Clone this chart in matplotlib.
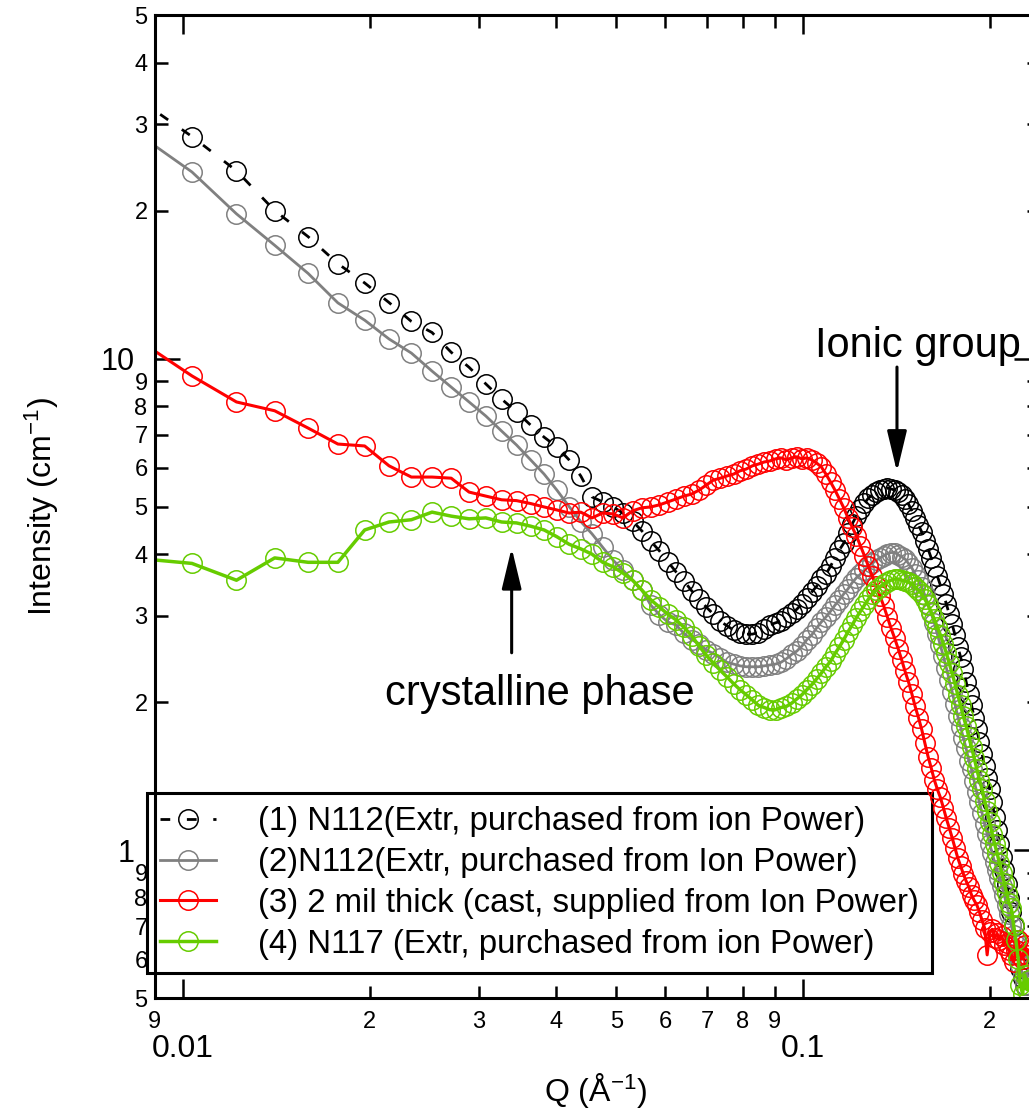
import numpy as np
import matplotlib
matplotlib.use('Agg')
import matplotlib.pyplot as plt
from matplotlib.ticker import LogLocator, FuncFormatter

plt.rcParams['font.family'] = ['Liberation Sans', 'DejaVu Sans']
plt.rcParams['mathtext.fontset'] = 'custom'
plt.rcParams['mathtext.rm'] = 'Liberation Sans'
plt.rcParams['mathtext.it'] = 'Liberation Sans:italic'
plt.rcParams['mathtext.bf'] = 'Liberation Sans:bold'

# Q grid (1/A), shared by the four samples (first point lies just left of the axis)
q = [0.00848,
     0.01034, 0.01220, 0.01406, 0.01592, 0.01778, 0.01964, 0.02150, 0.02336, 0.02522, 0.02708,
     0.02894, 0.03080, 0.03266, 0.03452, 0.03638, 0.03824, 0.04010, 0.04196, 0.04382, 0.04568,
     0.04754, 0.04940, 0.05126, 0.05312, 0.05498, 0.05684, 0.05870, 0.06056, 0.06242, 0.06428,
     0.06614, 0.06800, 0.06986, 0.07172, 0.07358, 0.07544, 0.07730, 0.07916, 0.08102, 0.08288,
     0.08474, 0.08660, 0.08846, 0.09032, 0.09218, 0.09404, 0.09590, 0.09776, 0.09962, 0.10148,
     0.10334, 0.10520, 0.10706, 0.10892, 0.11078, 0.11264, 0.11450, 0.11636, 0.11822, 0.12008,
     0.12194, 0.12380, 0.12566, 0.12752, 0.12938, 0.13124, 0.13310, 0.13496, 0.13682, 0.13868,
     0.14054, 0.14240, 0.14426, 0.14612, 0.14798, 0.14984, 0.15170, 0.15356, 0.15542, 0.15728,
     0.15914, 0.16100, 0.16286, 0.16472, 0.16658, 0.16844, 0.17030, 0.17216, 0.17402, 0.17588,
     0.17774, 0.17960, 0.18146, 0.18332, 0.18518, 0.18704, 0.18890, 0.19076, 0.19262, 0.19448,
     0.19634, 0.19820, 0.20006, 0.20192, 0.20378, 0.20564, 0.20750, 0.20936, 0.21122, 0.21308,
     0.21494, 0.21680, 0.21866, 0.22052, 0.22238, 0.22424, 0.22610, 0.22796, 0.22982, 0.23168]

# (1) N112 extruded, ion Power
i_n112_a = [33.7,
            28.3, 24.1, 20.0, 17.7, 15.6, 14.25, 13.0, 11.9, 11.3, 10.3,
            9.6, 8.88, 8.27, 7.79, 7.32, 6.92, 6.61, 6.22, 5.77, 5.23,
            5.11, 4.99, 4.85, 4.67, 4.46, 4.25, 4.06, 3.86, 3.68, 3.53,
            3.37, 3.24, 3.12, 3.02, 2.92, 2.86, 2.80, 2.76, 2.75, 2.75,
            2.77, 2.82, 2.87, 2.90, 2.92, 2.98, 3.03, 3.09, 3.17, 3.26,
            3.35, 3.44, 3.56, 3.64, 3.78, 3.93, 4.08, 4.21, 4.42, 4.61,
            4.78, 4.94, 5.08, 5.20, 5.28, 5.35, 5.40, 5.43, 5.45, 5.43,
            5.40, 5.35, 5.28, 5.18, 5.06, 4.90, 4.74, 4.59, 4.44, 4.25,
            4.10, 3.93, 3.77, 3.61, 3.46, 3.32, 3.17, 3.02, 2.88, 2.74,
            2.59, 2.47, 2.34, 2.20, 2.08, 1.97, 1.86, 1.76, 1.66, 1.57,
            1.48, 1.40, 1.33, 1.25, 1.17, 1.10, 1.03, 0.968, 0.911, 0.853,
            0.799, 0.748, 0.700, 0.656, 0.612, 0.575, 0.549, 0.531, 0.557, 0.545]

# (2) N112 extruded, Ion Power
i_n112_b = [28.6,
            23.97, 19.7, 17.0, 14.9, 12.98, 11.97, 10.96, 10.26, 9.43, 8.75,
            8.16, 7.64, 7.12, 6.67, 6.22, 5.82, 5.40, 5.00, 4.66, 4.40,
            4.13, 3.89, 3.71, 3.54, 3.38, 3.15, 3.01, 2.91, 2.87, 2.76,
            2.68, 2.63, 2.55, 2.51, 2.46, 2.41, 2.39, 2.37, 2.36, 2.36,
            2.36, 2.37, 2.38, 2.39, 2.41, 2.45, 2.50, 2.54, 2.60, 2.68,
            2.74, 2.83, 2.91, 2.98, 3.06, 3.15, 3.23, 3.32, 3.40, 3.50,
            3.58, 3.64, 3.71, 3.78, 3.83, 3.89, 3.93, 3.97, 4.01, 4.03,
            4.03, 3.99, 3.95, 3.91, 3.83, 3.75, 3.64, 3.54, 3.43, 3.30,
            3.17, 3.03, 2.90, 2.75, 2.61, 2.48, 2.35, 2.22, 2.10, 1.98,
            1.87, 1.78, 1.69, 1.61, 1.52, 1.46, 1.38, 1.31, 1.25, 1.19,
            1.13, 1.08, 1.03, 0.986, 0.946, 0.911, 0.877, 0.845, 0.810, 0.773,
            0.740, 0.704, 0.672, 0.640, 0.612, 0.583, 0.557, 0.531, 0.557, 0.583]

# (3) 2 mil cast film
i_cast = [10.9,
          9.22, 8.16, 7.83, 7.22, 6.70, 6.64, 6.05, 5.74, 5.74, 5.71,
          5.35, 5.25, 5.16, 5.14, 5.07, 4.99, 4.92, 4.85, 4.87, 4.74,
          4.85, 4.83, 4.74, 4.90, 4.97, 4.99, 5.04, 5.11, 5.18, 5.25,
          5.30, 5.40, 5.53, 5.66, 5.71, 5.77, 5.82, 5.91, 5.96, 6.05,
          6.10, 6.16, 6.19, 6.25, 6.28, 6.22, 6.28, 6.31, 6.25, 6.28,
          6.22, 6.13, 6.02, 5.82, 5.61, 5.40, 5.18, 4.97, 4.74, 4.54,
          4.36, 4.16, 3.97, 3.78, 3.61, 3.44, 3.29, 3.14, 2.98, 2.83,
          2.70, 2.57, 2.44, 2.31, 2.20, 2.08, 1.96, 1.86, 1.76, 1.65,
          1.55, 1.47, 1.39, 1.33, 1.28, 1.22, 1.16, 1.11, 1.06, 1.01,
          0.963, 0.928, 0.894, 0.865, 0.841, 0.810, 0.790, 0.773, 0.748, 0.720,
          0.694, 0.612, 0.680, 0.690, 0.662, 0.677, 0.656, 0.668, 0.640, 0.648,
          0.625, 0.612, 0.592, 0.625, 0.656, 0.612, 0.600, 0.640, 0.612, 0.625]

# (4) N117 extruded
i_n117 = [3.92,
          3.83, 3.54, 3.93, 3.85, 3.85, 4.48, 4.65, 4.70, 4.87, 4.78,
          4.72, 4.74, 4.65, 4.63, 4.56, 4.48, 4.34, 4.19, 4.10, 4.00,
          3.85, 3.77, 3.66, 3.54, 3.38, 3.23, 3.12, 3.02, 2.94, 2.84,
          2.73, 2.60, 2.49, 2.40, 2.32, 2.25, 2.18, 2.12, 2.07, 2.02,
          1.97, 1.95, 1.93, 1.93, 1.95, 1.96, 1.99, 2.03, 2.07, 2.12,
          2.17, 2.23, 2.29, 2.36, 2.42, 2.51, 2.59, 2.68, 2.78, 2.87,
          2.97, 3.06, 3.15, 3.24, 3.32, 3.38, 3.43, 3.48, 3.51, 3.54,
          3.56, 3.56, 3.54, 3.53, 3.51, 3.48, 3.43, 3.38, 3.32, 3.24,
          3.15, 3.05, 2.95, 2.84, 2.74, 2.63, 2.52, 2.40, 2.29, 2.18,
          2.07, 1.97, 1.87, 1.79, 1.70, 1.62, 1.54, 1.46, 1.39, 1.33,
          1.26, 1.20, 1.14, 1.08, 1.03, 0.986, 0.940, 0.898, 0.857, 0.818,
          0.780, 0.762, 0.704, 0.656, 0.600, 0.531, 0.510, 0.557, 0.520, 0.545]

labels = ['(1) N112(Extr, purchased from ion Power)',
          '(2)N112(Extr, purchased from Ion Power)',
          '(3) 2 mil thick (cast, supplied from Ion Power)',
          '(4) N117 (Extr, purchased from ion Power)']

fig = plt.figure(figsize=(10.29, 11.12), dpi=100)
ax = fig.add_axes([0.1502, 0.1025, 0.8592, 0.8840])

ms = 14
ax.plot(q, i_n112_a, color='black', lw=2.0, ls=(0, (3.5, 6)), marker='o', ms=ms,
        mfc='none', mew=1.1, label=labels[0])
ax.plot(q, i_n112_b, color='#808080', lw=2.0, marker='o', ms=ms,
        mfc='none', mew=1.1, label=labels[1])
ax.plot(q, i_cast, color='#ff0000', lw=2.2, marker='o', ms=ms,
        mfc='none', mew=1.1, label=labels[2])
ax.plot(q, i_n117, color='#66cc00', lw=2.5, marker='o', ms=ms,
        mfc='none', mew=1.1, label=labels[3])

ax.set_xscale('log')
ax.set_yscale('log')
ax.set_xlim(0.009, 0.24)
ax.set_ylim(0.5, 50)


def lead_digit(v, pos):
    e = np.floor(np.log10(v) + 1e-9)
    return f"{int(round(v / 10 ** e))}"


for axis in (ax.xaxis, ax.yaxis):
    axis.set_major_locator(LogLocator(base=10, numticks=10))
    axis.set_minor_locator(LogLocator(base=10, subs=np.arange(2, 10), numticks=20))
    axis.set_major_formatter(FuncFormatter(lambda v, pos: f"{v:g}"))
    axis.set_minor_formatter(FuncFormatter(lead_digit))

ax.tick_params(which='both', direction='in', top=True, right=True, width=1.8, colors='black')
ax.tick_params(axis='y', which='major', length=18, labelsize=22, pad=14)
ax.tick_params(axis='y', which='minor', length=9, labelsize=17, pad=5)
ax.tick_params(axis='x', which='major', length=14, labelsize=23, pad=26)
ax.tick_params(axis='x', which='minor', length=9, labelsize=17, pad=9)
for s in ax.spines.values():
    s.set_linewidth(2.2)

fig.text(42 / 1029, 1 - 507 / 1112, 'Intensity (cm$^{-1}$)', rotation=90,
         ha='center', va='center', fontsize=23)
fig.text(596 / 1029, 1 - 1090 / 1112, 'Q ($\\mathregular{\u00c5}^{-1}$)',
         ha='center', va='center', fontsize=23)

arrow = dict(arrowstyle='-|>,head_length=1.25,head_width=0.3', lw=2.2, color='black',
             mutation_scale=20, shrinkA=0, shrinkB=0)
ax.annotate('', xy=(0.1418, 5.88), xytext=(0.1418, 9.61), arrowprops=arrow)
ax.annotate('', xy=(0.0339, 4.12), xytext=(0.0339, 2.52), arrowprops=arrow)
ax.text(0.1045, 10.07, 'Ionic group', fontsize=30, ha='left', va='baseline')
ax.text(0.02117, 1.973, 'crystalline phase', fontsize=30, ha='left', va='baseline')

leg = ax.legend(loc='upper left', bbox_to_anchor=(147 / 1029, 1 - 793 / 1112),
                bbox_transform=fig.transFigure, fontsize=23.8, frameon=True,
                fancybox=False, edgecolor='black', framealpha=1, borderpad=0.4,
                borderaxespad=0, handlelength=1.7, handletextpad=1.25,
                labelspacing=0.3, numpoints=1)
leg.get_frame().set_linewidth(2.2)
leg.set_zorder(1.5)

fig.savefig('out.png', dpi=100)
